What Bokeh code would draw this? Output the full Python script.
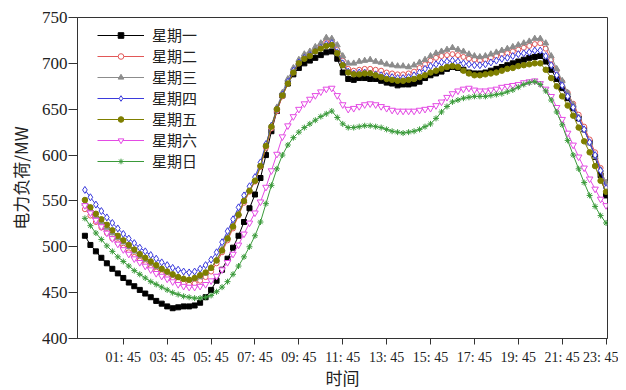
from bokeh.plotting import figure
from bokeh.models import FixedTicker, Legend, LegendItem
from bokeh.embed import file_html
from bokeh.resources import INLINE

# 96 quarter-hour slots, 00:00 ... 23:45
slots = list(range(96))
tick_slots = [7, 15, 23, 31, 39, 47, 55, 63, 71, 79, 87, 95]
tick_labels = ["01: 45", "03: 45", "05: 45", "07: 45", "09: 45", "11: 45",
               "13: 45", "15: 45", "17: 45", "19: 45", "21: 45", "23: 45"]
names = ["星期一", "星期二", "星期三", "星期四", "星期五", "星期六", "星期日"]

mon = [512, 502, 495, 488, 482, 476, 471, 466, 461, 457,
       453, 449, 445, 441, 438, 435, 433, 434, 435, 435,
       436, 439, 445, 453, 463, 475, 487, 499, 512, 527,
       542, 557, 575, 600, 626, 648, 665, 678, 688, 695,
       700, 703, 706, 709, 712, 713, 705, 690, 683, 682,
       684, 684, 683, 683, 681, 679, 678, 676, 677, 677,
       678, 680, 684, 687, 689, 691, 694, 696, 695, 693,
       690, 689, 689, 690, 692, 694, 696, 698, 700, 702,
       704, 706, 707, 708, 702, 693, 683, 673, 662, 651,
       640, 628, 614, 598, 578, 556]
tue = [541, 534, 527, 521, 515, 509, 504, 499, 494, 489,
       485, 481, 477, 473, 470, 467, 464, 462, 460, 459,
       460, 463, 467, 473, 482, 494, 507, 520, 534, 548,
       560, 571, 587, 608, 629, 648, 664, 678, 690, 700,
       706, 710, 715, 719, 723, 724, 715, 703, 694, 692,
       693, 694, 694, 693, 692, 690, 689, 688, 688, 689,
       691, 695, 699, 703, 706, 708, 709, 710, 709, 707,
       705, 704, 703, 704, 706, 708, 710, 711, 713, 715,
       717, 719, 721, 722, 716, 704, 692, 680, 668, 656,
       644, 631, 617, 603, 586, 567]
wed = [547, 540, 533, 527, 521, 515, 510, 505, 500, 495,
       490, 486, 482, 478, 475, 472, 469, 467, 465, 464,
       465, 467, 471, 477, 486, 497, 510, 523, 536, 550,
       562, 573, 590, 611, 632, 652, 668, 683, 695, 704,
       710, 713, 718, 722, 728, 727, 720, 708, 700, 700,
       702, 703, 704, 702, 701, 699, 698, 697, 697, 696,
       698, 701, 704, 708, 711, 713, 715, 717, 715, 713,
       710, 708, 707, 708, 710, 712, 714, 716, 718, 720,
       722, 724, 727, 727, 722, 708, 694, 681, 668, 655,
       641, 628, 613, 598, 584, 570]
thu = [562, 554, 546, 539, 532, 526, 520, 514, 509, 504,
       499, 495, 491, 487, 483, 480, 477, 475, 473, 472,
       473, 476, 480, 486, 494, 505, 517, 530, 543, 556,
       566, 576, 592, 612, 632, 650, 666, 680, 692, 701,
       706, 709, 713, 717, 721, 722, 712, 700, 691, 689,
       690, 690, 689, 688, 687, 686, 685, 684, 684, 685,
       687, 690, 694, 697, 699, 701, 702, 703, 702, 700,
       699, 698, 698, 699, 701, 703, 705, 706, 708, 710,
       711, 712, 714, 714, 708, 698, 687, 676, 664, 652,
       640, 628, 614, 600, 583, 564]
fri = [551, 543, 536, 530, 524, 518, 512, 507, 502, 497,
       492, 488, 484, 480, 476, 473, 470, 467, 465, 464,
       466, 469, 472, 477, 485, 496, 509, 522, 535, 550,
       561, 572, 588, 610, 631, 650, 665, 678, 690, 700,
       705, 708, 713, 716, 719, 720, 711, 698, 690, 688,
       688, 689, 689, 687, 685, 683, 682, 681, 681, 682,
       683, 685, 687, 690, 692, 694, 696, 697, 696, 692,
       689, 687, 687, 688, 689, 690, 692, 694, 695, 697,
       698, 699, 700, 700, 693, 684, 675, 664, 654, 643,
       630, 615, 603, 588, 572, 560]
sat = [545, 537, 529, 522, 515, 509, 503, 497, 492, 487,
       483, 479, 475, 471, 468, 465, 462, 459, 457, 456,
       456, 457, 459, 463, 468, 475, 483, 492, 502, 514,
       526, 537, 549, 565, 583, 601, 620, 632, 642, 650,
       656, 661, 665, 669, 672, 673, 665, 655, 650, 651,
       653, 655, 656, 655, 653, 651, 649, 648, 648, 648,
       648, 649, 650, 651, 654, 658, 663, 667, 670, 672,
       673, 671, 670, 670, 671, 672, 674, 675, 676, 677,
       679, 680, 681, 678, 672, 664, 652, 639, 624, 611,
       598, 586, 574, 563, 552, 545]
sun = [531, 523, 515, 508, 501, 495, 489, 484, 479, 474,
       470, 466, 462, 459, 456, 453, 450, 448, 446, 445,
       444, 444, 445, 447, 451, 456, 462, 470, 479, 489,
       500, 512, 527, 547, 567, 585, 600, 611, 619, 625,
       630, 634, 638, 642, 645, 648, 641, 634, 630, 630,
       631, 632, 632, 631, 630, 628, 626, 625, 624, 625,
       626, 628, 631, 634, 640, 647, 653, 658, 660, 662,
       663, 664, 664, 664, 665, 666, 667, 669, 671, 674,
       677, 679, 680, 677, 670, 660, 647, 633, 616, 600,
       585, 570, 556, 544, 534, 526]

series = [mon, tue, wed, thu, fri, sat, sun]
styles = [
    dict(color="#000000", marker="square", size=5, fill="#000000"),
    dict(color="#e25757", marker="circle", size=5, fill="#ffffff"),
    dict(color="#8c8c8c", marker="triangle", size=6, fill="#8c8c8c"),
    dict(color="#3b3bdc", marker="diamond", size=7, fill="#ffffff"),
    dict(color="#7f7f00", marker="circle", size=5.5, fill="#7f7f00"),
    dict(color="#e44be4", marker="inverted_triangle", size=6.5, fill="#ffffff"),
    dict(color="#3a9a3a", marker="asterisk", size=6, fill="#3a9a3a"),
]

p = figure(frame_width=530, frame_height=321, output_backend="svg",
           toolbar_location=None,
           x_range=(-1.35, 95.26), y_range=(400, 750),
           min_border_left=77, min_border_right=11, min_border_top=17,
           min_border_bottom=0)
p.background_fill_color = "#ffffff"
p.border_fill_color = "#ffffff"
p.xgrid.grid_line_color = None
p.ygrid.grid_line_color = None
p.outline_line_color = "#333333"
p.outline_line_width = 1

items = []
for vals, st, nm in zip(series, styles, names):
    ln = p.line(slots, vals, line_color=st["color"], line_width=1)
    sc = p.scatter(slots, vals, marker=st["marker"], size=st["size"],
                   line_color=st["color"], fill_color=st["fill"], line_width=1)
    items.append(LegendItem(label=nm, renderers=[ln, sc]))

legend = Legend(items=items, location=(20, 167), glyph_width=47, glyph_height=14,
                label_height=21, spacing=0, padding=0, margin=0, label_standoff=8,
                border_line_alpha=0, background_fill_alpha=0,
                label_text_font="Noto Sans CJK SC", label_text_font_size="15px",
                label_text_color="#222222")
p.add_layout(legend)

p.xaxis.ticker = FixedTicker(ticks=tick_slots)
p.xaxis.major_label_overrides = {t: l for t, l in zip(tick_slots, tick_labels)}
p.yaxis.ticker = FixedTicker(ticks=[400, 450, 500, 550, 600, 650, 700, 750])

for ax in (p.xaxis[0], p.yaxis[0]):
    ax.axis_line_color = "#333333"
    ax.major_tick_line_color = "#333333"
    ax.major_tick_in = 0
    ax.minor_tick_out = 0
    ax.minor_tick_in = 0
    ax.major_label_text_font = "Liberation Serif"
    ax.major_label_text_color = "#222222"
    ax.axis_label_text_font = "Noto Sans CJK SC"
    ax.axis_label_text_font_style = "normal"
    ax.axis_label_text_font_size = "17px"
    ax.axis_label_text_color = "#222222"

p.xaxis.major_tick_out = 6
p.xaxis.major_label_text_font_size = "14px"
p.xaxis.major_label_standoff = 5
p.xaxis.axis_label = "时间"
p.xaxis.axis_label_standoff = -3

p.yaxis.major_tick_out = 9
p.yaxis.major_label_text_font_size = "17px"
p.yaxis.major_label_standoff = 1
p.yaxis.axis_label = "电力负荷/MW"
p.yaxis.axis_label_standoff = 6

open("out.html", "w").write(file_html(p, INLINE))
